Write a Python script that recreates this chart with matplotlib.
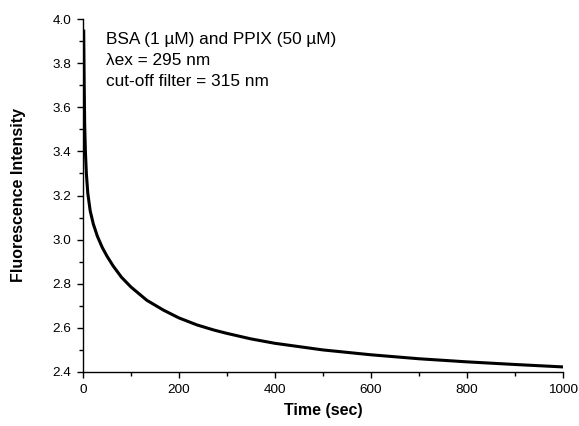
import numpy as np
import matplotlib.pyplot as plt
from matplotlib.ticker import MultipleLocator

plt.rcParams['font.family'] = ['Liberation Sans', 'DejaVu Sans']

# decay curve
time_s = [1.5, 2.5, 3.5, 5, 7, 10, 15, 21.6, 30, 40, 50, 63, 80, 100, 133, 168,
          200, 238, 273, 300, 350, 400, 500, 600, 700, 800, 900, 1000]
intensity = [3.945, 3.70, 3.52, 3.40, 3.30, 3.21, 3.13, 3.07, 3.015, 2.965, 2.925,
             2.88, 2.83, 2.785, 2.725, 2.68, 2.645, 2.613, 2.59, 2.575, 2.55, 2.53,
             2.50, 2.478, 2.46, 2.446, 2.434, 2.423]

fig = plt.figure(figsize=(5.79, 4.26), dpi=100)
ax = fig.add_axes([83 / 579, 1 - 372 / 426, 480 / 579, 353 / 426])

ax.plot(time_s, intensity, color='black', lw=2.2, solid_joinstyle='round')

ax.set_xlim(0, 1000)
ax.set_ylim(2.4, 4.0)
ax.xaxis.set_major_locator(MultipleLocator(200))
ax.xaxis.set_minor_locator(MultipleLocator(100))
ax.yaxis.set_major_locator(MultipleLocator(0.2))
ax.yaxis.set_minor_locator(MultipleLocator(0.1))
ax.yaxis.set_major_formatter(plt.FormatStrFormatter('%.1f'))

for side in ['top', 'right']:
    ax.spines[side].set_visible(False)
for side in ['left', 'bottom']:
    ax.spines[side].set_linewidth(1.0)

ax.tick_params(which='major', direction='out', length=4.5, width=1, labelsize=9.7, pad=4)
ax.tick_params(which='minor', direction='out', length=2.7, width=1)

ax.set_xlabel('Time (sec)', fontsize=11.5, fontweight='bold', labelpad=5)
ax.set_ylabel('Fluorescence Intensity', fontsize=11.5, fontweight='bold', labelpad=19)

ax.text(0.048, 0.962, 'BSA (1 µM) and PPIX (50 µM)\nλex = 295 nm\ncut-off filter = 315 nm',
        transform=ax.transAxes, ha='left', va='top', fontsize=12.4, linespacing=1.5)

fig.savefig('out.png', dpi=100)
